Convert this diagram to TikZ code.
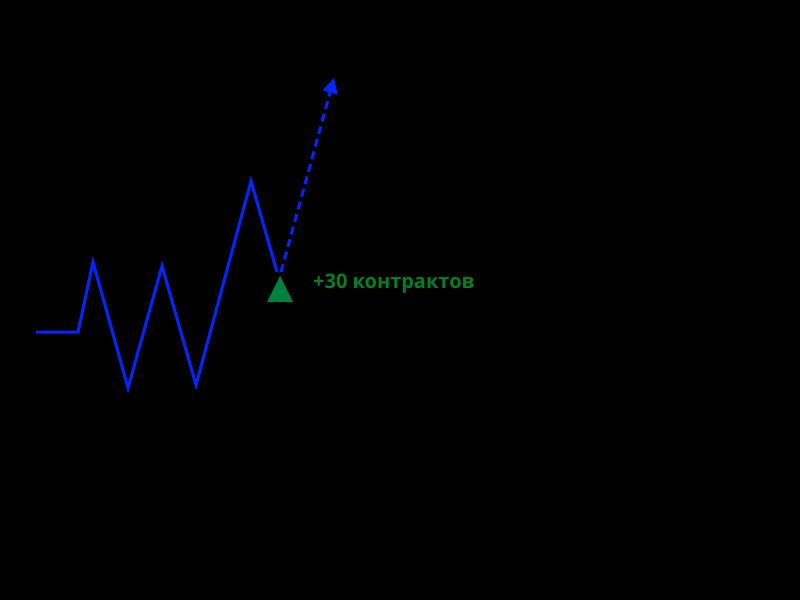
\documentclass[tikz,border=0pt]{standalone}
\usepackage{fontspec}
\setmainfont{Open Sans}
\usetikzlibrary{arrows.meta}
\definecolor{lineblue}{HTML}{0026FF}
\definecolor{markgreen}{HTML}{007F3F}
\definecolor{textgreen}{HTML}{008020}
\tikzset{
  pricepath/.style={draw=lineblue, line width=3pt, line join=miter},
  forecast/.style={draw=lineblue, line width=3pt, dash pattern=on 8pt off 5pt, -{Triangle[length=15pt,width=15pt]}},
  buymark/.style={fill=markgreen, draw=none},
  buylabel/.style={text=textgreen, font=\bfseries\fontsize{20}{24}\selectfont, anchor=west, inner sep=0pt}
}
\begin{document}
\begin{tikzpicture}[x=1pt,y=-1pt]
\fill[black] (0,0) rectangle (800,600);
\useasboundingbox (0,0) rectangle (800,600);
\coordinate (p0) at (36,332);
\coordinate (p1) at (78,332);
\coordinate (p2) at (93,262);
\coordinate (p3) at (128,388);
\coordinate (p4) at (162,266);
\coordinate (p5) at (196,385);
\coordinate (p6) at (251,181);
\coordinate (p7) at (277,272);
\coordinate (f0) at (281,272);
\coordinate (f1) at (334,78);
\path[pricepath] (p0) -- (p1) -- (p2) -- (p3) -- (p4) -- (p5) -- (p6) -- (p7);
\draw[forecast] (f0) -- (f1);
\path[buymark] (280,276) -- (293,302) -- (267,302) -- cycle;
\node[buylabel] (lbl) at (313,284) {+30 контрактов};
\end{tikzpicture}
\end{document}
